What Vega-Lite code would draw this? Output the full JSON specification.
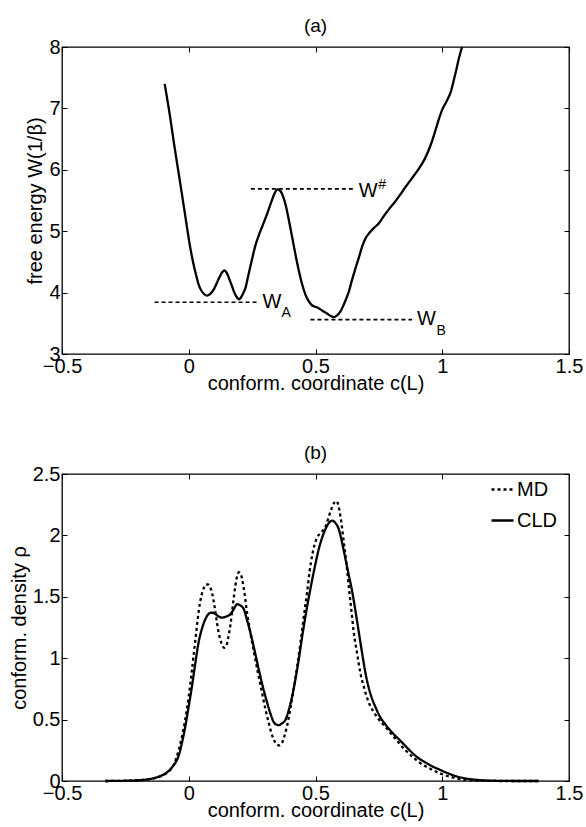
{
  "$schema": "https://vega.github.io/schema/vega-lite/v6.json",
  "background": "white",
  "padding": {"left": 8, "top": 16, "right": 10, "bottom": 2},
  "config": {
    "font": "Liberation Sans",
    "view": {"stroke": "black", "strokeWidth": 1.3},
    "axis": {"domain": false, "grid": false, "tickColor": "black", "tickSize": -5, "tickWidth": 1, "labelFont": "Liberation Sans", "labelFontSize": 20, "labelColor": "black", "labelFlush": false, "labelOverlap": false, "format": "~g", "titleFont": "Liberation Sans", "titleFontSize": 20, "titleFontWeight": "normal", "titleColor": "black"},
    "axisX": {"labelPadding": 7, "titlePadding": -3},
    "axisY": {"labelPadding": 7, "titlePadding": 3},
    "title": {"font": "Liberation Sans", "fontSize": 19, "fontWeight": "normal", "color": "black", "frame": "group", "anchor": "middle", "offset": 1}
  },
  "datasets": {
    "curveA": [
      {"c": -0.095, "W": 7.40}, {"c": -0.075, "W": 6.90}, {"c": -0.059, "W": 6.45}, {"c": -0.042, "W": 6.00},
      {"c": -0.026, "W": 5.58}, {"c": -0.012, "W": 5.20}, {"c": 0.0, "W": 4.88}, {"c": 0.010, "W": 4.64},
      {"c": 0.020, "W": 4.44}, {"c": 0.030, "W": 4.27}, {"c": 0.039, "W": 4.13}, {"c": 0.050, "W": 4.03},
      {"c": 0.062, "W": 3.97}, {"c": 0.072, "W": 3.95}, {"c": 0.085, "W": 3.98}, {"c": 0.097, "W": 4.04},
      {"c": 0.108, "W": 4.13}, {"c": 0.120, "W": 4.24}, {"c": 0.132, "W": 4.33}, {"c": 0.141, "W": 4.36},
      {"c": 0.150, "W": 4.32}, {"c": 0.160, "W": 4.22}, {"c": 0.171, "W": 4.10}, {"c": 0.182, "W": 3.98},
      {"c": 0.192, "W": 3.91}, {"c": 0.198, "W": 3.89}, {"c": 0.206, "W": 3.92}, {"c": 0.215, "W": 3.99},
      {"c": 0.224, "W": 4.08}, {"c": 0.235, "W": 4.28}, {"c": 0.250, "W": 4.55}, {"c": 0.263, "W": 4.77},
      {"c": 0.276, "W": 4.93}, {"c": 0.292, "W": 5.10}, {"c": 0.309, "W": 5.28}, {"c": 0.325, "W": 5.47},
      {"c": 0.338, "W": 5.61}, {"c": 0.350, "W": 5.68}, {"c": 0.360, "W": 5.66}, {"c": 0.370, "W": 5.59},
      {"c": 0.382, "W": 5.43}, {"c": 0.395, "W": 5.18}, {"c": 0.408, "W": 4.90}, {"c": 0.421, "W": 4.62},
      {"c": 0.434, "W": 4.36}, {"c": 0.447, "W": 4.14}, {"c": 0.460, "W": 3.97}, {"c": 0.473, "W": 3.86},
      {"c": 0.487, "W": 3.79}, {"c": 0.505, "W": 3.76}, {"c": 0.526, "W": 3.71}, {"c": 0.545, "W": 3.66},
      {"c": 0.560, "W": 3.62}, {"c": 0.572, "W": 3.60}, {"c": 0.585, "W": 3.63}, {"c": 0.598, "W": 3.69},
      {"c": 0.610, "W": 3.79}, {"c": 0.621, "W": 3.90}, {"c": 0.631, "W": 4.01}, {"c": 0.645, "W": 4.22},
      {"c": 0.658, "W": 4.40}, {"c": 0.671, "W": 4.57}, {"c": 0.685, "W": 4.76}, {"c": 0.697, "W": 4.88},
      {"c": 0.712, "W": 4.97}, {"c": 0.730, "W": 5.05}, {"c": 0.750, "W": 5.13}, {"c": 0.770, "W": 5.25},
      {"c": 0.790, "W": 5.36}, {"c": 0.810, "W": 5.46}, {"c": 0.830, "W": 5.57}, {"c": 0.855, "W": 5.72},
      {"c": 0.880, "W": 5.86}, {"c": 0.908, "W": 6.02}, {"c": 0.930, "W": 6.17}, {"c": 0.954, "W": 6.40},
      {"c": 0.970, "W": 6.60}, {"c": 0.987, "W": 6.83}, {"c": 1.000, "W": 6.98}, {"c": 1.015, "W": 7.10},
      {"c": 1.033, "W": 7.26}, {"c": 1.045, "W": 7.45}, {"c": 1.055, "W": 7.62}, {"c": 1.066, "W": 7.82},
      {"c": 1.078, "W": 8.00}
    ],
    "levels": [
      {"x1": -0.135, "x2": 0.270, "y": 3.843},
      {"x1": 0.245, "x2": 0.651, "y": 5.69},
      {"x1": 0.480, "x2": 0.881, "y": 3.56}
    ],
    "labelsMain": [
      {"x": 0.291, "y": 3.843, "t": "W"},
      {"x": 0.671, "y": 5.66, "t": "W"},
      {"x": 0.900, "y": 3.574, "t": "W"}
    ],
    "labelsSub": [
      {"x": 0.366, "y": 3.66, "t": "A"},
      {"x": 0.977, "y": 3.38, "t": "B"},
      {"x": 0.748, "y": 5.76, "t": "#"}
    ],
    "density": [
      {"s": "MD", "c": -0.33, "r": 0}, {"s": "MD", "c": -0.25, "r": 0.002}, {"s": "MD", "c": -0.18, "r": 0.008},
      {"s": "MD", "c": -0.14, "r": 0.02}, {"s": "MD", "c": -0.11, "r": 0.04}, {"s": "MD", "c": -0.09, "r": 0.06},
      {"s": "MD", "c": -0.075, "r": 0.085}, {"s": "MD", "c": -0.062, "r": 0.12}, {"s": "MD", "c": -0.05, "r": 0.18},
      {"s": "MD", "c": -0.04, "r": 0.25}, {"s": "MD", "c": -0.027, "r": 0.36}, {"s": "MD", "c": -0.013, "r": 0.51},
      {"s": "MD", "c": 0.0, "r": 0.69}, {"s": "MD", "c": 0.01, "r": 0.86}, {"s": "MD", "c": 0.02, "r": 1.04},
      {"s": "MD", "c": 0.03, "r": 1.22}, {"s": "MD", "c": 0.039, "r": 1.38}, {"s": "MD", "c": 0.05, "r": 1.51},
      {"s": "MD", "c": 0.059, "r": 1.57}, {"s": "MD", "c": 0.068, "r": 1.60}, {"s": "MD", "c": 0.076, "r": 1.60},
      {"s": "MD", "c": 0.084, "r": 1.58}, {"s": "MD", "c": 0.092, "r": 1.53}, {"s": "MD", "c": 0.102, "r": 1.42},
      {"s": "MD", "c": 0.112, "r": 1.28}, {"s": "MD", "c": 0.122, "r": 1.17}, {"s": "MD", "c": 0.131, "r": 1.11},
      {"s": "MD", "c": 0.14, "r": 1.085}, {"s": "MD", "c": 0.148, "r": 1.10}, {"s": "MD", "c": 0.156, "r": 1.17},
      {"s": "MD", "c": 0.165, "r": 1.28}, {"s": "MD", "c": 0.175, "r": 1.45}, {"s": "MD", "c": 0.184, "r": 1.59},
      {"s": "MD", "c": 0.191, "r": 1.67}, {"s": "MD", "c": 0.198, "r": 1.70}, {"s": "MD", "c": 0.206, "r": 1.68},
      {"s": "MD", "c": 0.217, "r": 1.57}, {"s": "MD", "c": 0.23, "r": 1.37}, {"s": "MD", "c": 0.243, "r": 1.21},
      {"s": "MD", "c": 0.257, "r": 1.05}, {"s": "MD", "c": 0.273, "r": 0.88}, {"s": "MD", "c": 0.289, "r": 0.72},
      {"s": "MD", "c": 0.303, "r": 0.58}, {"s": "MD", "c": 0.316, "r": 0.47}, {"s": "MD", "c": 0.326, "r": 0.39},
      {"s": "MD", "c": 0.335, "r": 0.34}, {"s": "MD", "c": 0.348, "r": 0.295}, {"s": "MD", "c": 0.358, "r": 0.29},
      {"s": "MD", "c": 0.368, "r": 0.31}, {"s": "MD", "c": 0.378, "r": 0.37}, {"s": "MD", "c": 0.388, "r": 0.45},
      {"s": "MD", "c": 0.401, "r": 0.59}, {"s": "MD", "c": 0.414, "r": 0.75}, {"s": "MD", "c": 0.428, "r": 0.94},
      {"s": "MD", "c": 0.441, "r": 1.13}, {"s": "MD", "c": 0.454, "r": 1.34}, {"s": "MD", "c": 0.467, "r": 1.54},
      {"s": "MD", "c": 0.477, "r": 1.71}, {"s": "MD", "c": 0.487, "r": 1.84}, {"s": "MD", "c": 0.497, "r": 1.93},
      {"s": "MD", "c": 0.506, "r": 1.98}, {"s": "MD", "c": 0.52, "r": 2.02}, {"s": "MD", "c": 0.533, "r": 2.05},
      {"s": "MD", "c": 0.545, "r": 2.10}, {"s": "MD", "c": 0.552, "r": 2.15}, {"s": "MD", "c": 0.562, "r": 2.21},
      {"s": "MD", "c": 0.572, "r": 2.26}, {"s": "MD", "c": 0.581, "r": 2.28}, {"s": "MD", "c": 0.588, "r": 2.26},
      {"s": "MD", "c": 0.594, "r": 2.21}, {"s": "MD", "c": 0.603, "r": 2.09}, {"s": "MD", "c": 0.612, "r": 1.94},
      {"s": "MD", "c": 0.622, "r": 1.77}, {"s": "MD", "c": 0.631, "r": 1.59}, {"s": "MD", "c": 0.641, "r": 1.40},
      {"s": "MD", "c": 0.651, "r": 1.21}, {"s": "MD", "c": 0.664, "r": 1.04}, {"s": "MD", "c": 0.677, "r": 0.88},
      {"s": "MD", "c": 0.693, "r": 0.75}, {"s": "MD", "c": 0.71, "r": 0.64}, {"s": "MD", "c": 0.727, "r": 0.57},
      {"s": "MD", "c": 0.743, "r": 0.52}, {"s": "MD", "c": 0.776, "r": 0.44}, {"s": "MD", "c": 0.80, "r": 0.38},
      {"s": "MD", "c": 0.829, "r": 0.31}, {"s": "MD", "c": 0.855, "r": 0.25}, {"s": "MD", "c": 0.881, "r": 0.20},
      {"s": "MD", "c": 0.907, "r": 0.155}, {"s": "MD", "c": 0.934, "r": 0.12}, {"s": "MD", "c": 0.967, "r": 0.085},
      {"s": "MD", "c": 1.0, "r": 0.055}, {"s": "MD", "c": 1.04, "r": 0.03}, {"s": "MD", "c": 1.079, "r": 0.013},
      {"s": "MD", "c": 1.144, "r": 0.003}, {"s": "MD", "c": 1.25, "r": 0}, {"s": "MD", "c": 1.38, "r": 0},
      {"s": "CLD", "c": -0.33, "r": 0}, {"s": "CLD", "c": -0.25, "r": 0.002}, {"s": "CLD", "c": -0.2, "r": 0.006},
      {"s": "CLD", "c": -0.16, "r": 0.014}, {"s": "CLD", "c": -0.131, "r": 0.027}, {"s": "CLD", "c": -0.11, "r": 0.042},
      {"s": "CLD", "c": -0.092, "r": 0.062}, {"s": "CLD", "c": -0.075, "r": 0.09}, {"s": "CLD", "c": -0.059, "r": 0.13},
      {"s": "CLD", "c": -0.048, "r": 0.165}, {"s": "CLD", "c": -0.04, "r": 0.204}, {"s": "CLD", "c": -0.027, "r": 0.31},
      {"s": "CLD", "c": -0.013, "r": 0.45}, {"s": "CLD", "c": 0.0, "r": 0.61}, {"s": "CLD", "c": 0.013, "r": 0.775},
      {"s": "CLD", "c": 0.026, "r": 0.96}, {"s": "CLD", "c": 0.039, "r": 1.13}, {"s": "CLD", "c": 0.052, "r": 1.24},
      {"s": "CLD", "c": 0.066, "r": 1.32}, {"s": "CLD", "c": 0.076, "r": 1.355}, {"s": "CLD", "c": 0.086, "r": 1.37},
      {"s": "CLD", "c": 0.095, "r": 1.37}, {"s": "CLD", "c": 0.105, "r": 1.36}, {"s": "CLD", "c": 0.118, "r": 1.34},
      {"s": "CLD", "c": 0.131, "r": 1.33}, {"s": "CLD", "c": 0.148, "r": 1.34}, {"s": "CLD", "c": 0.165, "r": 1.36},
      {"s": "CLD", "c": 0.178, "r": 1.40}, {"s": "CLD", "c": 0.191, "r": 1.44}, {"s": "CLD", "c": 0.203, "r": 1.43},
      {"s": "CLD", "c": 0.217, "r": 1.40}, {"s": "CLD", "c": 0.23, "r": 1.31}, {"s": "CLD", "c": 0.243, "r": 1.21},
      {"s": "CLD", "c": 0.26, "r": 1.06}, {"s": "CLD", "c": 0.276, "r": 0.91}, {"s": "CLD", "c": 0.292, "r": 0.77},
      {"s": "CLD", "c": 0.309, "r": 0.64}, {"s": "CLD", "c": 0.322, "r": 0.55}, {"s": "CLD", "c": 0.335, "r": 0.48},
      {"s": "CLD", "c": 0.345, "r": 0.46}, {"s": "CLD", "c": 0.355, "r": 0.455}, {"s": "CLD", "c": 0.368, "r": 0.47},
      {"s": "CLD", "c": 0.382, "r": 0.50}, {"s": "CLD", "c": 0.395, "r": 0.58}, {"s": "CLD", "c": 0.408, "r": 0.69},
      {"s": "CLD", "c": 0.421, "r": 0.83}, {"s": "CLD", "c": 0.434, "r": 0.99}, {"s": "CLD", "c": 0.447, "r": 1.17},
      {"s": "CLD", "c": 0.461, "r": 1.35}, {"s": "CLD", "c": 0.474, "r": 1.50}, {"s": "CLD", "c": 0.487, "r": 1.64},
      {"s": "CLD", "c": 0.5, "r": 1.77}, {"s": "CLD", "c": 0.513, "r": 1.89}, {"s": "CLD", "c": 0.526, "r": 1.98},
      {"s": "CLD", "c": 0.539, "r": 2.05}, {"s": "CLD", "c": 0.552, "r": 2.10}, {"s": "CLD", "c": 0.566, "r": 2.12},
      {"s": "CLD", "c": 0.579, "r": 2.10}, {"s": "CLD", "c": 0.592, "r": 2.05}, {"s": "CLD", "c": 0.605, "r": 1.94},
      {"s": "CLD", "c": 0.618, "r": 1.81}, {"s": "CLD", "c": 0.631, "r": 1.68}, {"s": "CLD", "c": 0.645, "r": 1.54},
      {"s": "CLD", "c": 0.658, "r": 1.38}, {"s": "CLD", "c": 0.671, "r": 1.21}, {"s": "CLD", "c": 0.684, "r": 1.04},
      {"s": "CLD", "c": 0.697, "r": 0.88}, {"s": "CLD", "c": 0.71, "r": 0.76}, {"s": "CLD", "c": 0.723, "r": 0.67},
      {"s": "CLD", "c": 0.737, "r": 0.60}, {"s": "CLD", "c": 0.75, "r": 0.54}, {"s": "CLD", "c": 0.776, "r": 0.46},
      {"s": "CLD", "c": 0.80, "r": 0.40}, {"s": "CLD", "c": 0.829, "r": 0.34}, {"s": "CLD", "c": 0.855, "r": 0.285},
      {"s": "CLD", "c": 0.881, "r": 0.23}, {"s": "CLD", "c": 0.907, "r": 0.185}, {"s": "CLD", "c": 0.934, "r": 0.15},
      {"s": "CLD", "c": 0.96, "r": 0.12}, {"s": "CLD", "c": 0.987, "r": 0.095}, {"s": "CLD", "c": 1.02, "r": 0.065},
      {"s": "CLD", "c": 1.053, "r": 0.04}, {"s": "CLD", "c": 1.10, "r": 0.018}, {"s": "CLD", "c": 1.144, "r": 0.008},
      {"s": "CLD", "c": 1.21, "r": 0.002}, {"s": "CLD", "c": 1.30, "r": 0}, {"s": "CLD", "c": 1.38, "r": 0}
    ]
  },
  "bounds": "flush",
  "spacing": 120,
  "resolve": {"legend": {"strokeDash": "independent"}},
  "vconcat": [
    {
      "width": 507,
      "height": 307,
      "title": {"text": "(a)"},
      "layer": [
        {
          "data": {"name": "curveA"},
          "mark": {"type": "line", "color": "black", "strokeWidth": 2.3, "interpolate": "monotone"},
          "encoding": {
            "x": {"field": "c", "type": "quantitative", "scale": {"domain": [-0.5, 1.5], "nice": false, "zero": false},
                  "axis": {"values": [-0.5, 0, 0.5, 1, 1.5], "title": "conform. coordinate c(L)"}},
            "y": {"field": "W", "type": "quantitative", "scale": {"domain": [3, 8], "nice": false, "zero": false},
                  "axis": {"values": [3, 4, 5, 6, 7, 8], "title": "free energy W(1/β)"}}
          }
        },
        {
          "data": {"name": "levels"},
          "mark": {"type": "rule", "color": "black", "strokeWidth": 1.6, "strokeDash": [4, 3]},
          "encoding": {
            "x": {"field": "x1", "type": "quantitative", "scale": {"domain": [-0.5, 1.5], "nice": false, "zero": false}, "axis": null},
            "x2": {"field": "x2"},
            "y": {"field": "y", "type": "quantitative", "scale": {"domain": [3, 8], "nice": false, "zero": false}, "axis": null}
          }
        },
        {
          "data": {"name": "labelsMain"},
          "mark": {"type": "text", "color": "black", "fontSize": 20, "font": "Liberation Sans", "align": "left", "baseline": "middle"},
          "encoding": {
            "x": {"field": "x", "type": "quantitative", "scale": {"domain": [-0.5, 1.5], "nice": false, "zero": false}, "axis": null},
            "y": {"field": "y", "type": "quantitative", "scale": {"domain": [3, 8], "nice": false, "zero": false}, "axis": null},
            "text": {"field": "t"}
          }
        },
        {
          "data": {"name": "labelsSub"},
          "mark": {"type": "text", "color": "black", "fontSize": 14, "font": "Liberation Sans", "align": "left", "baseline": "middle"},
          "encoding": {
            "x": {"field": "x", "type": "quantitative", "scale": {"domain": [-0.5, 1.5], "nice": false, "zero": false}, "axis": null},
            "y": {"field": "y", "type": "quantitative", "scale": {"domain": [3, 8], "nice": false, "zero": false}, "axis": null},
            "text": {"field": "t"}
          }
        },
        {
          "data": {"name": "curveA"},
          "mark": {"type": "point", "opacity": 0},
          "encoding": {
            "x": {"field": "c", "type": "quantitative", "scale": {"domain": [-0.5, 1.5], "nice": false, "zero": false},
                  "axis": {"orient": "top", "values": [-0.5, 0, 0.5, 1, 1.5], "labels": false, "title": null}},
            "y": {"field": "W", "type": "quantitative", "scale": {"domain": [3, 8], "nice": false, "zero": false},
                  "axis": {"orient": "right", "values": [3, 4, 5, 6, 7, 8], "labels": false, "title": null}}
          }
        }
      ],
      "resolve": {"axis": {"x": "independent", "y": "independent"}}
    },
    {
      "width": 507,
      "height": 307,
      "title": {"text": "(b)"},
      "layer": [
        {
          "data": {"name": "density"},
          "mark": {"type": "line", "color": "black", "strokeWidth": 2.3, "interpolate": "monotone"},
          "encoding": {
            "x": {"field": "c", "type": "quantitative", "scale": {"domain": [-0.5, 1.5], "nice": false, "zero": false},
                  "axis": {"values": [-0.5, 0, 0.5, 1, 1.5], "title": "conform. coordinate c(L)"}},
            "y": {"field": "r", "type": "quantitative", "scale": {"domain": [0, 2.5], "nice": false, "zero": false},
                  "axis": {"values": [0, 0.5, 1, 1.5, 2, 2.5], "title": "conform. density ρ"}},
            "strokeDash": {"field": "s", "type": "nominal", "sort": ["MD", "CLD"],
                  "scale": {"domain": ["MD", "CLD"], "range": [[3, 3], [1, 0]]},
                  "legend": {"title": null, "orient": "none", "legendX": 428, "legendY": 3, "symbolType": "stroke", "symbolSize": 484,
                             "symbolStrokeColor": "black", "symbolStrokeWidth": 2.3, "labelFont": "Liberation Sans", "labelFontSize": 20,
                             "labelColor": "black", "labelOffset": 2, "rowPadding": 8, "padding": 0}}
          }
        },
        {
          "data": {"name": "density"},
          "mark": {"type": "point", "opacity": 0},
          "encoding": {
            "x": {"field": "c", "type": "quantitative", "scale": {"domain": [-0.5, 1.5], "nice": false, "zero": false},
                  "axis": {"orient": "top", "values": [-0.5, 0, 0.5, 1, 1.5], "labels": false, "title": null}},
            "y": {"field": "r", "type": "quantitative", "scale": {"domain": [0, 2.5], "nice": false, "zero": false},
                  "axis": {"orient": "right", "values": [0, 0.5, 1, 1.5, 2, 2.5], "labels": false, "title": null}}
          }
        }
      ],
      "resolve": {"axis": {"x": "independent", "y": "independent"}}
    }
  ]
}
